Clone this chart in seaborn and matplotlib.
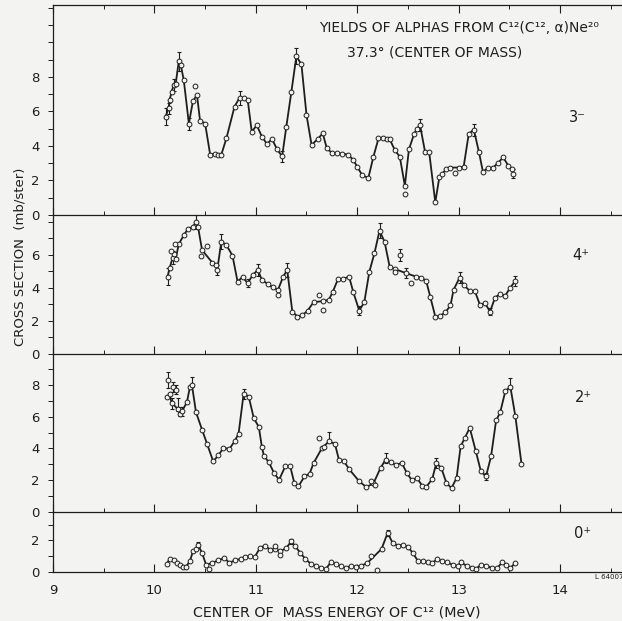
import matplotlib.pyplot as plt
import seaborn as sns
from matplotlib.ticker import MultipleLocator, FixedLocator, FuncFormatter

# ---- data (energy in MeV, cross section in mb/ster) ----
# 3- state: points on the drawn curve, points off it, error bars
x3 = [10.11, 10.14, 10.15, 10.17, 10.19, 10.21, 10.24, 10.26, 10.29, 10.34, 10.38, 10.42,
      10.45, 10.50, 10.55, 10.60, 10.63, 10.66, 10.71, 10.79, 10.84, 10.88, 10.92, 10.96,
      11.01, 11.06, 11.11, 11.16, 11.21, 11.26, 11.30, 11.35, 11.40, 11.45, 11.50, 11.55,
      11.61, 11.66, 11.70, 11.75, 11.80, 11.85, 11.91, 11.96, 12.00, 12.05, 12.11, 12.16,
      12.21, 12.25, 12.29, 12.32, 12.37, 12.42, 12.47, 12.51, 12.56, 12.59, 12.62, 12.67,
      12.71, 12.77, 12.81, 12.84, 12.88, 12.92, 13.00, 13.05, 13.10, 13.15, 13.20, 13.24,
      13.29, 13.34, 13.39, 13.44, 13.49, 13.53, 13.54]
y3 = [5.7, 6.18, 6.67, 7.15, 7.54, 7.6, 8.9, 8.7, 7.8, 5.3, 6.6, 6.96,
      5.47, 5.3, 3.5, 3.55, 3.5, 3.5, 4.44, 6.28, 6.8, 6.76, 6.67, 4.83,
      5.2, 4.54, 4.12, 4.4, 3.8, 3.4, 5.08, 7.1, 9.2, 8.73, 5.8, 4.06,
      4.4, 4.73, 3.87, 3.6, 3.6, 3.55, 3.5, 3.2, 2.8, 2.3, 2.15, 3.38,
      4.44, 4.45, 4.4, 4.4, 3.77, 3.38, 1.7, 3.8, 4.68, 5.0, 5.2, 3.63,
      3.63, 0.74, 2.18, 2.4, 2.67, 2.75, 2.75, 2.8, 4.7, 4.95, 3.67, 2.5,
      2.74, 2.74, 3.03, 3.34, 2.86, 2.65, 2.4]
x3_off = [10.40, 12.47, 12.96]
y3_off = [7.5, 1.22, 2.42]
ex3 = [10.11, 10.14, 10.19, 10.24, 10.34, 10.84, 11.26, 11.40, 12.62, 13.15, 13.54]
ey3 = [5.7, 6.18, 7.54, 8.9, 5.3, 6.8, 3.4, 9.2, 5.2, 4.95, 2.4]
ee3 = [0.5, 0.3, 0.35, 0.55, 0.35, 0.4, 0.3, 0.45, 0.35, 0.35, 0.25]

# 4+ state
x4 = [10.13, 10.15, 10.18, 10.19, 10.21, 10.24, 10.29, 10.33, 10.38, 10.41, 10.43, 10.47,
      10.57, 10.61, 10.62, 10.66, 10.71, 10.77, 10.82, 10.87, 10.92, 10.97, 11.02, 11.06,
      11.12, 11.17, 11.22, 11.27, 11.31, 11.36, 11.41, 11.46, 11.51, 11.57, 11.66, 11.72,
      11.76, 11.81, 11.86, 11.92, 11.96, 12.02, 12.07, 12.12, 12.17, 12.22, 12.27, 12.32,
      12.37, 12.48, 12.58, 12.63, 12.68, 12.72, 12.77, 12.82, 12.87, 12.92, 12.95, 13.01,
      13.05, 13.11, 13.16, 13.21, 13.26, 13.31, 13.36, 13.41, 13.46, 13.51, 13.56]
y4 = [4.69, 5.2, 5.84, 6.04, 5.76, 6.65, 7.2, 7.57, 7.71, 8.0, 7.71, 6.3,
      5.54, 5.4, 5.1, 6.8, 6.6, 5.96, 4.39, 4.67, 4.29, 4.79, 5.09, 4.49,
      4.23, 4.03, 3.9, 4.69, 5.09, 2.57, 2.27, 2.35, 2.62, 3.14, 3.2, 3.28,
      3.78, 4.53, 4.55, 4.69, 3.78, 2.63, 3.14, 4.99, 6.1, 7.47, 6.8, 5.29,
      5.15, 4.9, 4.69, 4.63, 4.43, 3.48, 2.27, 2.31, 2.53, 2.94, 3.88, 4.63,
      4.19, 3.82, 3.82, 2.98, 3.08, 2.57, 3.42, 3.64, 3.54, 4.02, 4.43]
x4_off = [10.16, 10.20, 10.46, 10.52, 11.22, 11.62, 11.66, 12.37, 12.42, 12.53]
y4_off = [6.24, 6.65, 5.96, 6.56, 3.58, 3.58, 2.66, 4.99, 6.0, 4.33]
ex4 = [10.13, 10.18, 10.41, 10.62, 10.66, 10.92, 11.02, 11.31, 12.02, 12.22, 12.42, 12.48,
       13.01, 13.31, 13.56]
ey4 = [4.69, 5.84, 8.0, 5.1, 6.8, 4.29, 5.09, 5.09, 2.63, 7.47, 6.0, 4.9, 4.63, 2.57, 4.43]
ee4 = [0.5, 0.4, 0.45, 0.3, 0.45, 0.25, 0.35, 0.4, 0.25, 0.45, 0.35, 0.3, 0.35, 0.2, 0.3]

# 2+ state
x2 = [10.12, 10.15, 10.17, 10.23, 10.25, 10.27, 10.32, 10.35, 10.37, 10.41, 10.47, 10.52,
      10.58, 10.63, 10.68, 10.74, 10.79, 10.83, 10.88, 10.93, 10.98, 11.03, 11.06, 11.08,
      11.13, 11.18, 11.23, 11.29, 11.34, 11.38, 11.42, 11.48, 11.53, 11.57, 11.65, 11.72,
      11.78, 11.82, 11.87, 11.92, 12.02, 12.09, 12.16, 12.23, 12.28, 12.33, 12.38, 12.44,
      12.49, 12.54, 12.59, 12.64, 12.68, 12.74, 12.78, 12.83, 12.88, 12.93, 12.98, 13.02,
      13.06, 13.11, 13.17, 13.22, 13.27, 13.32, 13.37, 13.41, 13.46, 13.51, 13.56, 13.62]
y2 = [7.27, 7.4, 6.86, 6.5, 6.2, 6.33, 6.9, 7.86, 8.0, 6.29, 5.18, 4.28,
      3.19, 3.56, 4.03, 3.98, 4.44, 4.93, 7.44, 7.27, 5.91, 5.35, 4.09, 3.54,
      3.12, 2.45, 2.03, 2.87, 2.87, 1.82, 1.61, 2.24, 2.41, 3.08, 4.0, 4.44,
      4.3, 3.29, 3.19, 2.7, 1.93, 1.57, 1.8, 2.77, 3.3, 3.12, 2.98, 3.08,
      2.45, 1.99, 2.14, 1.66, 1.57, 2.08, 3.08, 2.77, 1.82, 1.51, 2.14, 4.13,
      4.65, 5.3, 3.82, 2.56, 2.24, 3.5, 5.77, 6.27, 7.59, 7.9, 6.02, 3.04]
x2_off = [10.13, 10.18, 10.21, 11.62, 11.67, 12.14, 12.18]
y2_off = [8.3, 7.86, 7.7, 4.65, 4.07, 1.93, 1.68]
ex2 = [10.13, 10.17, 10.18, 10.21, 10.23, 10.25, 10.27, 10.37, 10.88, 11.72, 12.28, 12.78,
       13.27, 13.51]
ey2 = [8.3, 6.86, 7.86, 7.7, 6.75, 6.33, 6.33, 8.2, 7.44, 4.72, 3.4, 3.08, 2.24, 8.11]
ee2 = [0.5, 0.35, 0.3, 0.3, 0.4, 0.3, 0.3, 0.3, 0.3, 0.3, 0.3, 0.3, 0.2, 0.35]

# 0+ state
x0 = [10.12, 10.15, 10.19, 10.22, 10.25, 10.28, 10.31, 10.35, 10.38, 10.41, 10.43, 10.47,
      10.51, 10.57, 10.63, 10.69, 10.74, 10.79, 10.85, 10.89, 10.94, 10.99, 11.04, 11.09,
      11.14, 11.19, 11.24, 11.30, 11.35, 11.39, 11.44, 11.49, 11.54, 11.59, 11.64, 11.69,
      11.74, 11.79, 11.84, 11.89, 11.94, 11.99, 12.04, 12.10, 12.24, 12.30, 12.35, 12.40,
      12.45, 12.50, 12.55, 12.60, 12.65, 12.70, 12.74, 12.79, 12.84, 12.89, 12.94, 12.99,
      13.02, 13.08, 13.13, 13.17, 13.22, 13.27, 13.33, 13.38, 13.43, 13.47, 13.51, 13.56]
y0 = [0.5, 0.82, 0.74, 0.57, 0.42, 0.32, 0.32, 0.68, 1.31, 1.46, 1.73, 1.2,
      0.46, 0.57, 0.74, 0.89, 0.57, 0.74, 0.82, 0.95, 0.99, 0.95, 1.52, 1.67,
      1.41, 1.45, 1.3, 1.52, 1.94, 1.62, 1.2, 0.82, 0.53, 0.4, 0.25, 0.19,
      0.61, 0.5, 0.36, 0.25, 0.4, 0.32, 0.4, 0.57, 1.46, 2.47, 1.84, 1.67,
      1.73, 1.58, 1.2, 0.68, 0.68, 0.61, 0.57, 0.82, 0.68, 0.61, 0.46, 0.36,
      0.61, 0.4, 0.25, 0.19, 0.46, 0.4, 0.25, 0.25, 0.61, 0.46, 0.25, 0.57]
x0_off = [10.54, 11.19, 11.24, 12.14, 12.20]
y0_off = [0.19, 1.65, 1.05, 0.99, 0.1]
ex0 = [10.43, 11.35, 12.30]
ey0 = [1.73, 1.94, 2.47]
ee0 = [0.15, 0.15, 0.2]

state_labels = ["3\u207b", "4\u207a", "2\u207a", "0\u207a"]

ink = "#1e1e1e"
bg = "#f3f3f1"

sns.set_style("ticks")
plt.rcParams["font.family"] = ["DejaVu Sans"]

fig = plt.figure(figsize=(6.22, 6.21), dpi=100, facecolor=bg)
W, H = 622.0, 621.0

# (top px, bottom px, ymax, highest labelled tick, label x px, label y px)
layout = [
    (5, 215, 12.17, 8, 577, 118),
    (215, 354, 8.42, 6, 581, 255),
    (354, 512, 9.95, 8, 583, 397),
    (512, 572, 3.8, 2, 583, 533),
]
series = [
    (x3, y3, x3_off, y3_off, ex3, ey3, ee3),
    (x4, y4, x4_off, y4_off, ex4, ey4, ee4),
    (x2, y2, x2_off, y2_off, ex2, ey2, ee2),
    (x0, y0, x0_off, y0_off, ex0, ey0, ee0),
]

left = 53 / W
for i, ((top, bot, ymax, labmax, lx, ly), (xs, ys, xo, yo, ex, ey, ee)) in enumerate(zip(layout, series)):
    ax = fig.add_axes([left, 1 - bot / H, 1 - left, (bot - top) / H])
    ax.set_facecolor(bg)
    ax.patch.set_alpha(0)

    sns.lineplot(x=xs, y=ys, ax=ax, color=ink, lw=1.3, estimator=None, sort=False)
    ax.errorbar(ex, ey, yerr=ee, fmt="none", ecolor=ink, elinewidth=0.8,
                capsize=1.6, capthick=0.8, clip_on=False, zorder=2)
    sns.scatterplot(x=xs + xo, y=ys + yo, ax=ax, marker="o", s=12, color=bg,
                    edgecolor=ink, linewidth=0.7, zorder=3, clip_on=False)

    ax.set_xlim(9, 9 + (W - 53) / 101.4)
    ax.set_ylim(0, ymax)
    ax.set_xlabel("")
    ax.set_ylabel("")

    ax.xaxis.set_major_locator(MultipleLocator(1))
    ax.xaxis.set_minor_locator(MultipleLocator(0.5))
    ax.yaxis.set_major_locator(FixedLocator(list(range(0, int(ymax) + 1, 2))))
    ax.yaxis.set_minor_locator(FixedLocator(list(range(1, int(ymax) + 1, 2))))
    ax.yaxis.set_major_formatter(FuncFormatter(lambda v, p, m=labmax: f"{v:.0f}" if v <= m else ""))

    ax.tick_params(axis="x", which="major", direction="in", length=6, width=0.8,
                   color=ink, top=(i == 0), labelbottom=(i == 3), labelsize=9.5,
                   labelcolor=ink, pad=9)
    ax.tick_params(axis="x", which="minor", direction="in", length=3, width=0.7,
                   color=ink, top=(i == 0))
    ax.tick_params(axis="y", which="both", direction="out", length=3.5, width=0.7,
                   color=ink, labelsize=9.5, labelcolor=ink, pad=6)

    for side in ["left", "bottom", "top"]:
        ax.spines[side].set_color(ink)
        ax.spines[side].set_linewidth(0.9)
    ax.spines["right"].set_visible(False)
    ax.spines["top"].set_visible(i == 0)

    fig.text(lx / W, 1 - ly / H, state_labels[i], fontsize=10.5, color=ink,
             ha="center", va="center")

fig.text(319 / W, 1 - 28 / H, "YIELDS OF ALPHAS FROM C\u00b9\u00b2(C\u00b9\u00b2, \u03b1)Ne\u00b2\u2070",
         fontsize=10, color=ink, ha="left", va="center")
fig.text(347 / W, 1 - 52 / H, "37.3\u00b0 (CENTER OF MASS)",
         fontsize=10, color=ink, ha="left", va="center")
fig.text(337 / W, 1 - 613 / H, "CENTER OF  MASS ENERGY OF C\u00b9\u00b2 (MeV)",
         fontsize=10.3, color=ink, ha="center", va="center")
fig.text(20 / W, 1 - 257 / H, "CROSS SECTION  (mb/ster)", fontsize=9.5, color=ink,
         rotation=90, ha="center", va="center")
fig.text(609 / W, 1 - 577 / H, "L 64007", fontsize=5, color=ink, ha="center", va="center")

fig.savefig("out.png", dpi=100, facecolor=bg)
